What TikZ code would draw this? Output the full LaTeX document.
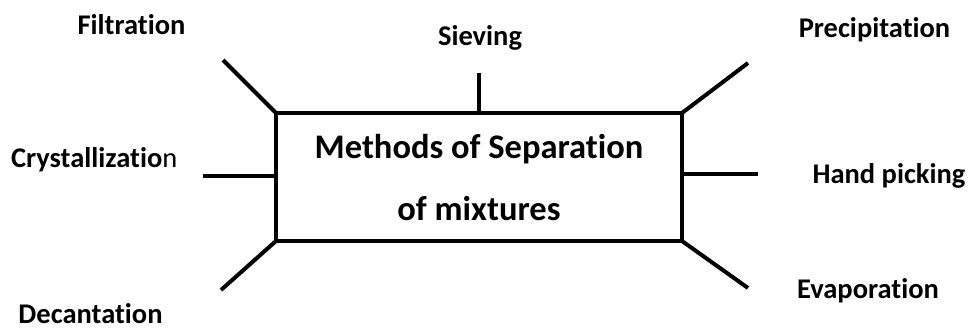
\documentclass[tikz,border=0pt]{standalone}
\usepackage{fontspec}
\setmainfont{Carlito}[Ligatures=NoCommon]
\begin{document}
\begin{tikzpicture}[x=1pt,y=-1pt,
  lab/.style={inner sep=0pt,outer sep=0pt,anchor=base,font=\fontsize{28.5}{34}\selectfont\bfseries},
  title/.style={inner sep=0pt,outer sep=0pt,anchor=base,font=\fontsize{34.5}{40}\selectfont\bfseries},
  frame/.style={draw=black,line width=4.5pt,inner sep=0pt,outer sep=0pt,minimum width=406pt,minimum height=128pt,line join=miter},
  spoke/.style={draw=black,line width=4pt}]
\useasboundingbox (0,0) rectangle (970,327);
% central box
\node[frame] (box) at (479,177) {};
\node[title] (t1) at (479,158) {Methods of Separation};
\node[title] (t2) at (479,220) {of mixtures};
% free ends of the spokes
\coordinate (fE) at (223,60);
\coordinate (sE) at (479,73);
\coordinate (pE) at (748,63);
\coordinate (cE) at (203,176);
\coordinate (cB) at (276,176);
\coordinate (hE) at (758,174);
\coordinate (hB) at (682,174);
\coordinate (dE) at (221,290);
\coordinate (eE) at (748,288);
% spokes
\draw[spoke] (box.north west) -- (fE);
\draw[spoke] (box.north) -- (sE);
\draw[spoke] (box.north east) -- (pE);
\draw[spoke] (cB) -- (cE);
\draw[spoke] (hB) -- (hE);
\draw[spoke] (box.south west) -- (dE);
\draw[spoke] (box.south east) -- (eE);
% labels
\node[lab] (filt) at (131.5,34) {Filtration};
\node[lab] (siev) at (480,45) {Sieving};
\node[lab] (prec) at (874.5,37) {Precipitation};
\node[lab,anchor=base west] (crys) at (11,167) {Crystallizatio\mdseries n};
\node[lab] (hand) at (889,183) {Hand picking};
\node[lab] (deca) at (90.5,323.5) {Decantation};
\node[lab] (evap) at (868,298) {Evaporation};
\end{tikzpicture}
\end{document}
